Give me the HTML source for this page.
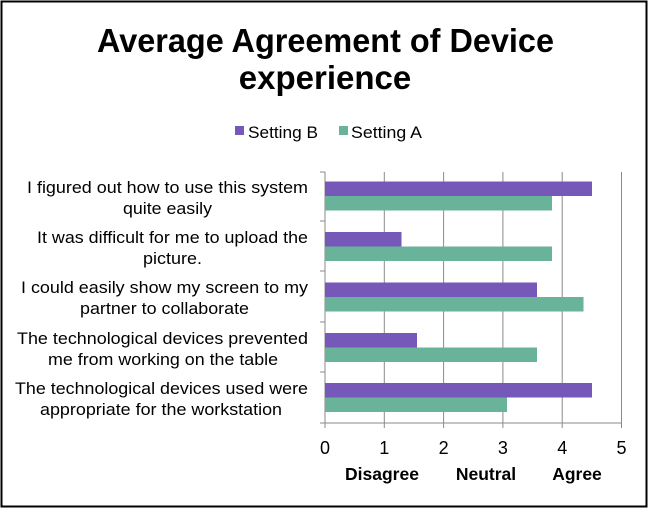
<!DOCTYPE html>
<html><head><style>
body{margin:0;background:#fff;}
svg text{font-family:"Liberation Sans",Arial,sans-serif;}
</style></head><body>
<svg width="651" height="510" viewBox="0 0 651 510" xmlns="http://www.w3.org/2000/svg">
<rect x="0" y="0" width="651" height="510" fill="#fff"/>
<rect x="1.5" y="1.5" width="645" height="505" fill="#fff" stroke="#000" stroke-width="2"/>
<text x="97" y="52" font-size="33" font-weight="bold" textLength="457" lengthAdjust="spacingAndGlyphs">Average Agreement of Device</text>
<text x="325" y="89" font-size="33" font-weight="bold" text-anchor="middle">experience</text>
<rect x="235" y="126" width="9" height="9" fill="#7558b8"/>
<text x="248" y="138" font-size="17" textLength="70" lengthAdjust="spacingAndGlyphs">Setting B</text>
<rect x="339" y="126" width="9" height="9" fill="#68b39a"/>
<text x="351" y="138" font-size="17" textLength="71" lengthAdjust="spacingAndGlyphs">Setting A</text>
<g stroke="#8a8a8a" stroke-width="1">
<line x1="384.3" y1="172" x2="384.3" y2="423"/>
<line x1="443.6" y1="172" x2="443.6" y2="423"/>
<line x1="502.9" y1="172" x2="502.9" y2="423"/>
<line x1="562.2" y1="172" x2="562.2" y2="423"/>
<line x1="621.5" y1="172" x2="621.5" y2="423"/>
<line x1="325" y1="172" x2="325" y2="428"/>
<line x1="320" y1="423" x2="621.5" y2="423"/>
<line x1="320" y1="172" x2="325" y2="172"/>
<line x1="320" y1="221" x2="325" y2="221"/>
<line x1="320" y1="271" x2="325" y2="271"/>
<line x1="320" y1="322" x2="325" y2="322"/>
<line x1="320" y1="372" x2="325" y2="372"/>
<line x1="384.3" y1="423" x2="384.3" y2="428"/>
<line x1="443.6" y1="423" x2="443.6" y2="428"/>
<line x1="502.9" y1="423" x2="502.9" y2="428"/>
<line x1="562.2" y1="423" x2="562.2" y2="428"/>
<line x1="621.5" y1="423" x2="621.5" y2="428"/>
</g>
<g>
<rect x="325" y="181.5" width="267" height="14.5" fill="#7558b8"/>
<rect x="325" y="196" width="227" height="14.5" fill="#68b39a"/>
<rect x="325" y="232" width="76.5" height="14.5" fill="#7558b8"/>
<rect x="325" y="246.5" width="227" height="14.5" fill="#68b39a"/>
<rect x="325" y="282.5" width="212" height="14.5" fill="#7558b8"/>
<rect x="325" y="297" width="258.5" height="14.5" fill="#68b39a"/>
<rect x="325" y="333" width="92" height="14.5" fill="#7558b8"/>
<rect x="325" y="347.5" width="212" height="14.5" fill="#68b39a"/>
<rect x="325" y="383" width="267" height="14.5" fill="#7558b8"/>
<rect x="325" y="397.5" width="182" height="14.5" fill="#68b39a"/>
</g>
<g font-size="17">
<text x="27" y="193" textLength="281" lengthAdjust="spacingAndGlyphs">I figured out how to use this system</text>
<text x="123" y="214" textLength="89" lengthAdjust="spacingAndGlyphs">quite easily</text>
<text x="37" y="243" textLength="271" lengthAdjust="spacingAndGlyphs">It was difficult for me to upload the</text>
<text x="143" y="264" textLength="59" lengthAdjust="spacingAndGlyphs">picture.</text>
<text x="21" y="293" textLength="287" lengthAdjust="spacingAndGlyphs">I could easily show my screen to my</text>
<text x="80" y="314" textLength="169" lengthAdjust="spacingAndGlyphs">partner to collaborate</text>
<text x="17" y="344" textLength="291" lengthAdjust="spacingAndGlyphs">The technological devices prevented</text>
<text x="48" y="365" textLength="230" lengthAdjust="spacingAndGlyphs">me from working on the table</text>
<text x="15" y="394" textLength="293" lengthAdjust="spacingAndGlyphs">The technological devices used were</text>
<text x="40" y="415" textLength="242" lengthAdjust="spacingAndGlyphs">appropriate for the workstation</text>
</g>
<g font-size="18" text-anchor="middle">
<text x="325" y="454">0</text>
<text x="384.3" y="454">1</text>
<text x="443.6" y="454">2</text>
<text x="502.9" y="454">3</text>
<text x="562.2" y="454">4</text>
<text x="621.5" y="454">5</text>
</g>
<g font-size="17.5" font-weight="bold" text-anchor="middle">
<text x="382" y="480">Disagree</text>
<text x="486" y="480">Neutral</text>
<text x="577" y="480">Agree</text>
</g>
</svg>
</body></html>
